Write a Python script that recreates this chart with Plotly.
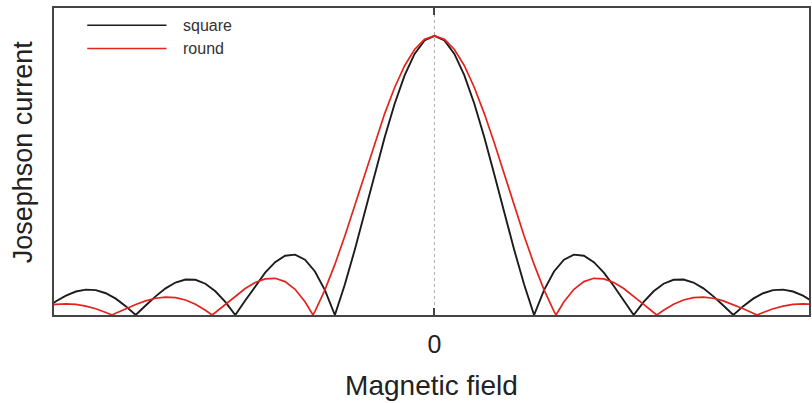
import plotly.graph_objects as go

# Magnetic field (in units of the square junction's first zero)
field_square = [-3.9, -3.8, -3.7, -3.6, -3.5, -3.4, -3.3, -3.2, -3.1, -3.0,
                -2.9, -2.8, -2.7, -2.6, -2.5, -2.4, -2.3, -2.2, -2.1, -2.0,
                -1.9, -1.8, -1.7, -1.6, -1.5, -1.4, -1.3, -1.2, -1.1, -1.0,
                -0.9, -0.8, -0.7, -0.6, -0.5, -0.4, -0.3, -0.2, -0.1, 0.0,
                0.1, 0.2, 0.3, 0.4, 0.5, 0.6, 0.7, 0.8, 0.9, 1.0,
                1.1, 1.2, 1.3, 1.4, 1.5, 1.6, 1.7, 1.8, 1.9, 2.0,
                2.1, 2.2, 2.3, 2.4, 2.5, 2.6, 2.7, 2.8, 2.9, 3.0,
                3.1, 3.2, 3.3, 3.4, 3.5, 3.6, 3.7, 3.8, 3.9]
current_square = [0.0252, 0.0492, 0.0696, 0.0841, 0.0909, 0.0890, 0.0780, 0.0585, 0.0317, 0.0,
                  0.0339, 0.0668, 0.0954, 0.1164, 0.1273, 0.1261, 0.1120, 0.0850, 0.0468, 0.0,
                  0.0518, 0.1039, 0.1515, 0.1892, 0.2122, 0.2162, 0.1981, 0.1559, 0.0894, 0.0,
                  0.1093, 0.2339, 0.3679, 0.5046, 0.6366, 0.7568, 0.8584, 0.9355, 0.9836, 1.0,
                  0.9836, 0.9355, 0.8584, 0.7568, 0.6366, 0.5046, 0.3679, 0.2339, 0.1093, 0.0,
                  0.0894, 0.1559, 0.1981, 0.2162, 0.2122, 0.1892, 0.1515, 0.1039, 0.0518, 0.0,
                  0.0468, 0.0850, 0.1120, 0.1261, 0.1273, 0.1164, 0.0954, 0.0668, 0.0339, 0.0,
                  0.0317, 0.0585, 0.0780, 0.0890, 0.0909, 0.0841, 0.0696, 0.0492, 0.0252]

field_round = [-3.9, -3.8, -3.7, -3.6, -3.5, -3.4, -3.3, -3.238, -3.2, -3.1, -3.0,
               -2.9, -2.8, -2.7, -2.6, -2.5, -2.4, -2.3, -2.233, -2.2, -2.1, -2.0,
               -1.9, -1.8, -1.7, -1.6, -1.5, -1.4, -1.3, -1.22, -1.2, -1.1, -1.0,
               -0.9, -0.8, -0.7, -0.6, -0.5, -0.4, -0.3, -0.2, -0.1, 0.0,
               0.1, 0.2, 0.3, 0.4, 0.5, 0.6, 0.7, 0.8, 0.9,
               1.0, 1.1, 1.2, 1.22, 1.3, 1.4, 1.5, 1.6, 1.7, 1.8, 1.9,
               2.0, 2.1, 2.2, 2.233, 2.3, 2.4, 2.5, 2.6, 2.7, 2.8, 2.9,
               3.0, 3.1, 3.2, 3.238, 3.3, 3.4, 3.5, 3.6, 3.7, 3.8, 3.9]
current_round = [0.0327, 0.0381, 0.0400, 0.0380, 0.0320, 0.0222, 0.0092, 0.0, 0.0060, 0.0221, 0.0375,
                 0.0507, 0.0601, 0.0643, 0.0624, 0.0538, 0.0385, 0.0171, 0.0, 0.0091, 0.0381, 0.0676,
                 0.0947, 0.1164, 0.1296, 0.1315, 0.1196, 0.0920, 0.0477, 0.0, 0.0133, 0.0902, 0.1812,
                 0.2833, 0.3929, 0.5057, 0.6170, 0.7217, 0.8152, 0.8930, 0.9515, 0.9877, 1.0,
                 0.9877, 0.9515, 0.8930, 0.8152, 0.7217, 0.6170, 0.5057, 0.3929, 0.2833,
                 0.1812, 0.0902, 0.0133, 0.0, 0.0477, 0.0920, 0.1196, 0.1315, 0.1296, 0.1164, 0.0947,
                 0.0676, 0.0381, 0.0091, 0.0, 0.0171, 0.0385, 0.0538, 0.0624, 0.0643, 0.0601, 0.0507,
                 0.0375, 0.0221, 0.0060, 0.0, 0.0092, 0.0222, 0.0320, 0.0380, 0.0400, 0.0381, 0.0327]

series_names = ["square", "round"]
series_colors = ["#1c1c1c", "#e3241d"]
x_tick_values = [0]
x_tick_labels = ["0"]

FONT = "Liberation Sans, Arial, Helvetica, sans-serif"

fig = go.Figure()
fig.add_trace(go.Scatter(x=field_square, y=current_square, mode="lines",
                         name=series_names[0],
                         line=dict(color=series_colors[0], width=1.9)))
fig.add_trace(go.Scatter(x=field_round, y=current_round, mode="lines",
                         name=series_names[1],
                         line=dict(color=series_colors[1], width=1.7)))

# manual legend (long line samples like the reference)
legend_rows = [0.944, 0.868]
for name, color, yy in zip(series_names, series_colors, legend_rows):
    fig.add_shape(type="line", xref="paper", yref="paper",
                  x0=0.044, x1=0.149, y0=yy, y1=yy,
                  line=dict(color=color, width=1.6))
    fig.add_annotation(xref="paper", yref="paper", x=0.168, y=yy,
                       text=name, showarrow=False, xanchor="left", yanchor="middle",
                       font=dict(family=FONT, size=16, color="#333"))

# y-axis title placed like the reference
fig.add_annotation(xref="paper", yref="paper", x=0, y=0.53, xshift=-31,
                   text="Josephson current", textangle=-90, showarrow=False,
                   xanchor="center", yanchor="middle",
                   font=dict(family=FONT, size=27, color="#222"))

fig.update_layout(
    width=812, height=403,
    margin=dict(l=54, r=1, t=8, b=88),
    paper_bgcolor="white", plot_bgcolor="white",
    showlegend=False,
    font=dict(family=FONT, color="#222"),
    xaxis=dict(range=[-3.82, 3.76], tickmode="array", tickvals=x_tick_values,
               ticktext=x_tick_labels, ticks="inside", ticklen=7, tickwidth=2,
               tickcolor="#444", tickfont=dict(size=25, color="#222"),
               ticklabelstandoff=6,
               showline=True, linewidth=2, linecolor="#444", mirror="ticks",
               showgrid=True, gridcolor="#b0b0b0", griddash="dot", gridwidth=1,
               zeroline=False,
               title=dict(text="Magnetic field", font=dict(size=28, color="#222"),
                          standoff=18)),
    yaxis=dict(range=[0, 1.1], showticklabels=False, ticks="",
               showline=True, linewidth=2, linecolor="#444", mirror=True,
               showgrid=False, zeroline=False),
)

fig.write_html("out.html")
